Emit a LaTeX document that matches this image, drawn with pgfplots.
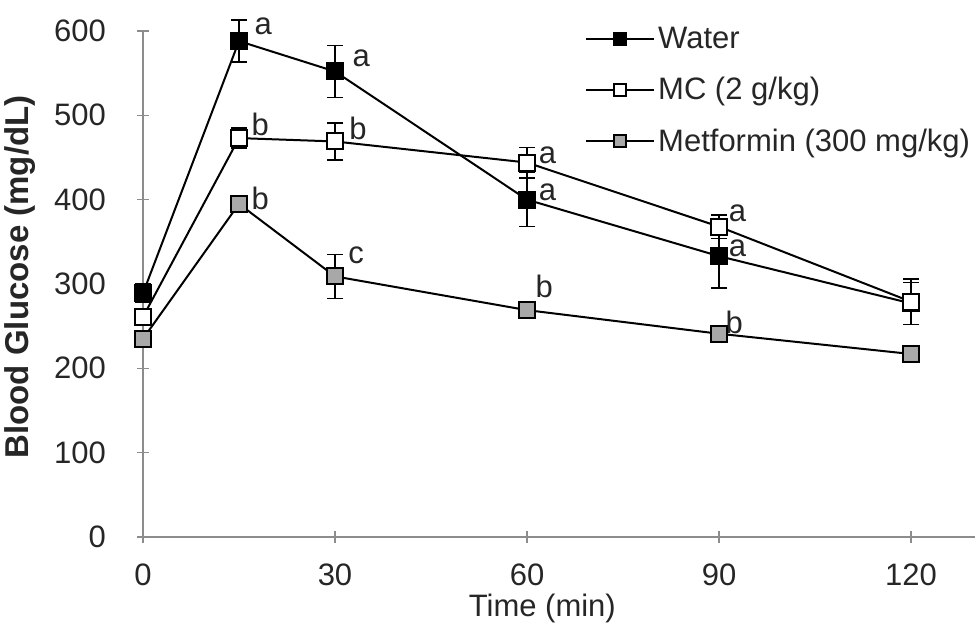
\documentclass[border=0pt]{standalone}
\usepackage{pgfplots}
\pgfplotsset{compat=1.18}
\usepackage{pgfplotstable}
\usepackage{fontspec}
\setmainfont{Liberation Sans}
\usetikzlibrary{calc}
\definecolor{axgray}{gray}{0.55}
\definecolor{metfill}{gray}{0.66}
\newcommand{\fs}{\fontsize{15.5}{18}\selectfont}

\pgfplotstableread{
t water werr mc mcerr met meterr
0 289 11 261 8 235 7
15 588 25 473 12 395 10
30 552 31 469 22 309 26
60 400 32 444 18 269 8
90 333 38 368 14 241 6
120 277 25 279 27 217 6
}\datatable

\begin{document}
\begin{tikzpicture}
\begin{axis}[
  name=ax,
  scale only axis, width=416pt, height=253pt,
  xmin=0, xmax=130, ymin=0, ymax=600,
  axis lines*=left,
  clip=false,
  xtick={0,30,60,90,120}, ytick={0,100,200,300,400,500,600},
  tick align=center, major tick length=6pt,
  axis line style={axgray, line width=1pt},
  tick style={axgray, line width=0.8pt},
  /pgf/number format/assume math mode=true,
  ticklabel style={font=\fs, text=black!85},
  xticklabel style={anchor=center, yshift=-16pt},
  yticklabel style={anchor=east, xshift=-12pt},
  xlabel={Time (min)},
  xlabel style={font=\fs, text=black!85, at={(axis description cs:0.48,0)}, anchor=center, yshift=-35.5pt},
  ylabel={Blood Glucose (mg/dL)},
  ylabel style={font=\fontsize{16.5}{19}\selectfont\bfseries, text=black!85, at={(axis description cs:0,0.514)}, anchor=center, yshift=61.5pt},
  legend image code/.code={\draw[mark repeat=2, mark phase=2, #1, mark size=3pt] plot coordinates {(0pt,0pt) (17pt,0pt) (34pt,0pt)};},
  legend style={draw=none, fill=none, at={(axis description cs:0.531,1.015)}, anchor=north west, font=\fs, text=black!85, row sep=10pt, inner sep=0pt, nodes={inner sep=1.5pt}},
  legend cell align=left,
]
\addplot[black, line width=1pt, mark=square*, mark size=4pt, mark options={fill=black, solid},
  error bars/.cd, y dir=both, y explicit,
  error bar style={black, line width=0.8pt},
  error mark options={rotate=90, mark size=4pt, black, line width=0.8pt}]
  table[x=t, y=water, y error=werr]{\datatable};
\addlegendentry{Water}
\addplot[black, line width=1pt, mark=square*, mark size=4pt, mark options={fill=white, solid},
  error bars/.cd, y dir=both, y explicit,
  error bar style={black, line width=0.8pt},
  error mark options={rotate=90, mark size=4pt, black, line width=0.8pt}]
  table[x=t, y=mc, y error=mcerr]{\datatable};
\addlegendentry{MC (2 g/kg)}
\addplot[black, line width=1pt, mark=square*, mark size=4pt, mark options={fill=metfill, solid},
  error bars/.cd, y dir=both, y explicit,
  error bar style={black, line width=0.8pt},
  error mark options={rotate=90, mark size=4pt, black, line width=0.8pt}]
  table[x=t, y=met, y error=meterr]{\datatable};
\addlegendentry{Metformin (300 mg/kg)}

\node[font=\fs, text=black!85] at (axis cs:18.8,605) {a};
\node[font=\fs, text=black!85] at (axis cs:34.1,568) {a};
\node[font=\fs, text=black!85] at (axis cs:18.3,489) {b};
\node[font=\fs, text=black!85] at (axis cs:33.6,485) {b};
\node[font=\fs, text=black!85] at (axis cs:18.3,402) {b};
\node[font=\fs, text=black!85] at (axis cs:33.3,334) {c};
\node[font=\fs, text=black!85] at (axis cs:63.2,453) {a};
\node[font=\fs, text=black!85] at (axis cs:63.2,409) {a};
\node[font=\fs, text=black!85] at (axis cs:62.7,297) {b};
\node[font=\fs, text=black!85] at (axis cs:92.9,384) {a};
\node[font=\fs, text=black!85] at (axis cs:92.9,342) {a};
\node[font=\fs, text=black!85] at (axis cs:92.4,255) {b};
\end{axis}
\pgfresetboundingbox
\path ($(ax.south west)+(-71.5pt,-48pt)$) rectangle ($(ax.north east)+(1.5pt,15.5pt)$);
\end{tikzpicture}
\end{document}
